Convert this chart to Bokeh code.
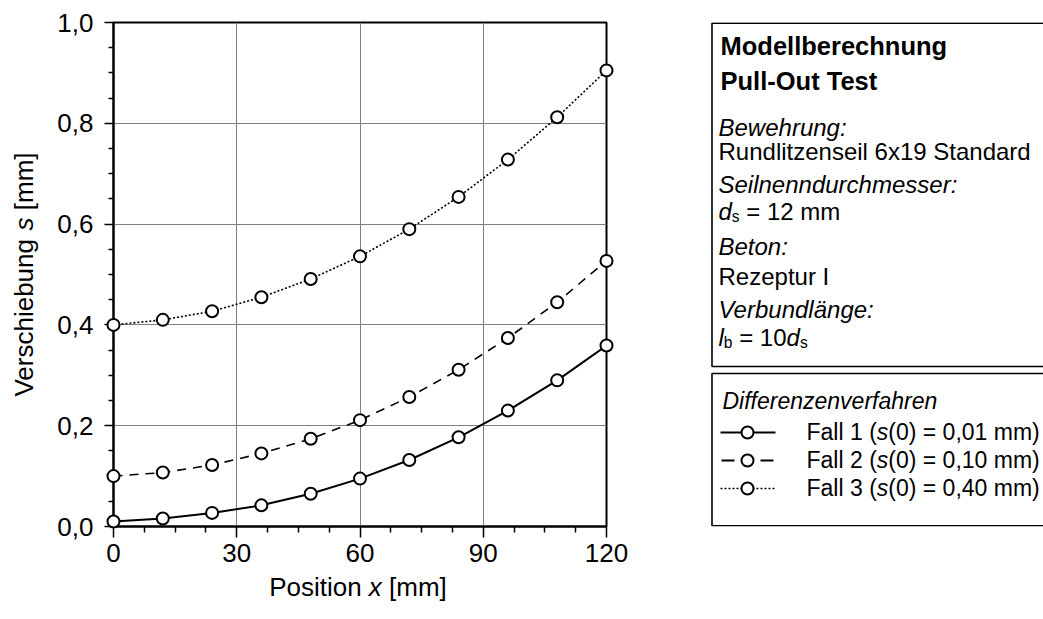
import math
from bokeh.plotting import figure
from bokeh.models import Range1d, FixedTicker, CustomJSTickFormatter
from bokeh.layouts import row
from bokeh.core.properties import value
from bokeh.embed import file_html
from bokeh.resources import INLINE

# ---------------- data ----------------
x_pos = [0, 12, 24, 36, 48, 60, 72, 84, 96, 108, 120]
s_fall1 = [0.010, 0.016, 0.027, 0.042, 0.065, 0.095, 0.132, 0.177, 0.230, 0.290, 0.359]
s_fall2 = [0.100, 0.107, 0.122, 0.145, 0.174, 0.211, 0.257, 0.311, 0.374, 0.445, 0.527]
s_fall3 = [0.400, 0.410, 0.427, 0.455, 0.491, 0.536, 0.590, 0.654, 0.728, 0.812, 0.905]

x_ticks = [0, 30, 60, 90, 120]
x_minor = [7.5, 15, 22.5, 37.5, 45, 52.5, 67.5, 75, 82.5, 97.5, 105, 112.5]
y_ticks = [0.0, 0.2, 0.4, 0.6, 0.8, 1.0]
y_minor = [0.05, 0.1, 0.15, 0.25, 0.3, 0.35, 0.45, 0.5, 0.55, 0.65, 0.7, 0.75, 0.85, 0.9, 0.95]

title_lines = ["Modellberechnung", "Pull-Out Test"]
legend_title = "Differenzenverfahren"
legend_values = ["0,01", "0,10", "0,40"]

FONT = "Liberation Sans"

# Arial / Liberation Sans advance widths (1/1000 em)
W = {' ': 278, '(': 333, ')': 333, ',': 278, '-': 333, '.': 278, ':': 278, '=': 584,
     '[': 278, ']': 278, 'I': 278, 'F': 611, 'P': 667, 'V': 667, 'B': 667, 'R': 722,
     'S': 667, 'M': 833, 'O': 778, 'T': 611, 'D': 722,
     'a': 556, 'b': 556, 'c': 500, 'd': 556, 'e': 556, 'f': 278, 'g': 556, 'h': 556,
     'i': 222, 'j': 222, 'k': 500, 'l': 222, 'm': 833, 'n': 556, 'o': 556, 'p': 556,
     'q': 556, 'r': 333, 's': 500, 't': 278, 'u': 556, 'v': 500, 'w': 722, 'x': 500,
     'y': 500, 'z': 500, 'ä': 556}

BASE_FIX = 9  # rendered baseline sits this many px further "down" than requested


def tw(s, size):
    return sum(W.get(c, 556) for c in s) * size / 1000.0


def add_runs(fig, pos, runs, size, angle=0.0):
    """runs: (text, style, size factor, baseline shift px down); pos(offset_px, shift_px) -> (x, y) data"""
    off = 0.0
    for text, style, fac, shift in runs:
        fs = size * fac
        lead = len(text) - len(text.lstrip(" "))
        off += tw(" " * lead, fs)
        body = text.strip(" ")
        if body:
            x, y = pos(off, shift - BASE_FIX)
            fig.text(x=[x], y=[y], text=[body], text_font=value(FONT),
                     text_font_size=value(f"{fs:.1f}px"), text_font_style=value(style),
                     text_color="black", angle=angle, text_align=value("left"),
                     text_baseline=value("alphabetic"), level="overlay")
        off += tw(text.lstrip(" "), fs)


# ---------------- main plot ----------------
FL, FT, FW, FH = 113, 22, 493, 504
FB = FT + FH
main = figure(frame_width=FW, frame_height=FH,
              x_range=Range1d(0, 120), y_range=Range1d(0, 1),
              output_backend="svg", toolbar_location=None,
              min_border_left=FL, min_border_right=700 - FL - FW,
              min_border_top=FT, min_border_bottom=619 - FB,
              background_fill_color="white", border_fill_color="white")
main.outline_line_color = "black"
main.outline_line_width = 2

main.xaxis.ticker = FixedTicker(ticks=x_ticks, minor_ticks=x_minor)
main.yaxis.ticker = FixedTicker(ticks=y_ticks, minor_ticks=y_minor)
main.yaxis.formatter = CustomJSTickFormatter(code="return tick.toFixed(1).replace('.', ',');")
for ax in (main.xaxis[0], main.yaxis[0]):
    ax.axis_line_color = "black"
    ax.axis_line_width = 2
    ax.major_tick_in = 0
    ax.minor_tick_in = 0
    ax.major_tick_line_color = "black"
    ax.minor_tick_line_color = "black"
    ax.major_tick_line_width = 1.5
    ax.minor_tick_line_width = 1.5
    ax.major_label_text_font = FONT
    ax.major_label_text_font_size = "26px"
    ax.major_label_text_color = "black"
main.xaxis.major_tick_out = 11
main.xaxis.minor_tick_out = 6
main.yaxis.major_tick_out = 9
main.yaxis.minor_tick_out = 5
main.xaxis.major_label_standoff = 6
main.yaxis.major_label_standoff = 11

main.grid.grid_line_color = "#7f7f7f"
main.grid.grid_line_width = 1

main.line(x_pos, s_fall1, line_color="black", line_width=2)
main.line(x_pos, s_fall2, line_color="black", line_width=1.6, line_dash="9 7")
main.line(x_pos, s_fall3, line_color="black", line_width=1.6, line_dash="2 2")
for s in (s_fall1, s_fall2, s_fall3):
    main.scatter(x_pos, s, size=12, marker="circle", fill_color="white",
                 line_color="black", line_width=2, level="overlay")

AX = 26


def main_h(sx0, sy):
    def pos(off, shift):
        return ((sx0 + off - FL) * 120.0 / FW, (FB - (sy + shift)) / FH)
    return pos


def main_v(sx, sy0):
    def pos(off, shift):
        return ((sx + shift - FL) * 120.0 / FW, (FB - (sy0 - off)) / FH)
    return pos


xl_runs = [("Position ", "normal", 1, 0), ("x", "italic", 1, 0), (" [mm]", "normal", 1, 0)]
xl_w = sum(tw(t, AX * f) for t, _, f, _ in xl_runs)
add_runs(main, main_h(FL + FW / 2 - 2 - xl_w / 2, 595), xl_runs, AX)

yl_runs = [("Verschiebung ", "normal", 1, 0), ("s", "italic", 1, 0), (" [mm]", "normal", 1, 0)]
yl_w = sum(tw(t, AX * f) for t, _, f, _ in yl_runs)
add_runs(main, main_v(32, FT + FH / 2 + yl_w / 2), yl_runs, AX, angle=math.pi / 2)

# ---------------- side panel ----------------
PW = 343
panel = figure(frame_width=PW, frame_height=FH,
               x_range=Range1d(0, PW), y_range=Range1d(FB, FT),
               output_backend="svg", toolbar_location=None,
               min_border_left=0, min_border_right=0,
               min_border_top=FT, min_border_bottom=619 - FB,
               x_axis_location=None, y_axis_location=None,
               background_fill_color="white", border_fill_color="white")
panel.grid.visible = False
panel.outline_line_color = None

panel.quad(left=[11.5, 11.5], right=[500, 500], top=[22.6, 373], bottom=[366, 525.3],
           fill_color=None, line_color="black", line_width=1.6)


def ppos(x0, y0):
    def pos(off, shift):
        return (x0 + off, y0 + shift)
    return pos


BS = 24
LS = 23
for i, t in enumerate(title_lines):
    add_runs(panel, ppos(20, 54 + 35 * i), [(t, "bold", 1, 0)], 25.5)

items = [
    (136, 18, [("Bewehrung:", "italic", 1, 0)]),
    (160, 18, [("Rundlitzenseil 6x19 Standard", "normal", 1, 0)]),
    (193, 18, [("Seilnenndurchmesser:", "italic", 1, 0)]),
    (220, 18, [("d", "italic", 1, 0), ("s", "normal", 0.65, 5), (" = 12 mm", "normal", 1, 0)]),
    (255, 18, [("Beton:", "italic", 1, 0)]),
    (285, 18, [("Rezeptur I", "normal", 1, 0)]),
    (318, 18, [("Verbundlänge:", "italic", 1, 0)]),
    (346, 18, [("l", "italic", 1, 0), ("b", "normal", 0.65, 5), (" = 10", "normal", 1, 0),
               ("d", "italic", 1, 0), ("s", "normal", 0.65, 5)]),
]
for y, x, runs in items:
    add_runs(panel, ppos(x, y), runs, BS)
add_runs(panel, ppos(22, 409), [(legend_title, "italic", 1, 0)], LS)

# legend entries
leg_y = [432, 460, 488]
panel.line([20, 75], [leg_y[0], leg_y[0]], line_color="black", line_width=2)
panel.line([21, 34], [leg_y[1], leg_y[1]], line_color="black", line_width=2)
panel.line([60, 73], [leg_y[1], leg_y[1]], line_color="black", line_width=2)
panel.line([20, 75], [leg_y[2], leg_y[2]], line_color="black", line_width=1.6, line_dash="2 2")
panel.scatter([47, 47, 47], leg_y, size=12, marker="circle", fill_color="white",
              line_color="black", line_width=2)
for i, (y, v) in enumerate(zip(leg_y, legend_values)):
    add_runs(panel, ppos(106, y + 8),
             [(f"Fall {i + 1} (", "normal", 1, 0), ("s", "italic", 1, 0),
              (f"(0) = {v} mm)", "normal", 1, 0)], LS)

layout = row(main, panel)
open("out.html", "w").write(file_html(layout, INLINE))
